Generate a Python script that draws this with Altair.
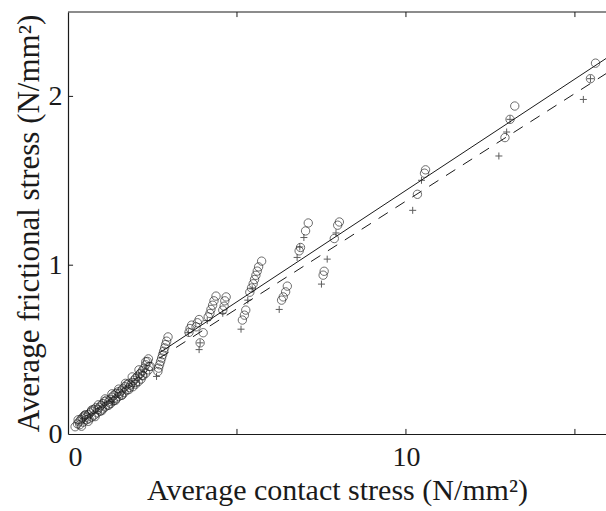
import altair as alt
import pandas as pd

# ---- data ----
circle_x = [
    # dense band near origin
    0.21, 0.28, 0.33, 0.38, 0.42, 0.47, 0.52, 0.35, 0.45, 0.55,
    0.55, 0.60, 0.65, 0.70, 0.76, 0.82, 0.62, 0.70, 0.78, 0.86,
    0.88, 0.93, 0.98, 1.03, 1.08, 1.14, 0.95, 1.02, 1.10, 1.18,
    1.20, 1.25, 1.30, 1.36, 1.42, 1.48, 1.26, 1.34, 1.42, 1.50,
    1.52, 1.57, 1.62, 1.68, 1.74, 1.80, 1.58, 1.66, 1.74, 1.82,
    1.85, 1.90, 1.95, 2.00, 2.06, 2.12, 1.92, 2.00, 2.08, 2.16,
    2.15, 2.20, 2.25, 2.30, 2.35, 2.38, 2.22, 2.30, 2.38, 2.44,
    0.30, 0.50, 0.70, 0.90, 1.10, 1.30, 1.50, 1.70, 1.90, 2.10, 2.30,
    0.40, 0.60, 0.80, 1.00, 1.20, 1.40, 1.60, 1.80, 2.00, 2.20, 2.40,
    # steep stack
    2.66, 2.68, 2.71, 2.74, 2.77, 2.80, 2.83, 2.86, 2.89, 2.92, 2.96,
    # 3.5 - 4.0
    3.58, 3.61, 3.66, 3.79, 3.83, 3.88, 4.00, 3.91,
    # 4.15 - 4.7
    4.15, 4.20, 4.23, 4.28, 4.32, 4.38,
    4.58, 4.62, 4.64, 4.68,
    # 5.1 - 5.7
    5.16, 5.22, 5.26,
    5.38, 5.43, 5.48, 5.52, 5.56, 5.60, 5.64, 5.73,
    # 6.3 - 8.0
    6.32, 6.37, 6.44, 6.49,
    6.84, 6.88, 7.03, 7.11,
    7.55, 7.58, 7.88, 7.98, 8.03,
    # right
    10.34, 10.55, 10.58,
    12.93, 13.08, 13.22,
    15.46, 15.61,
]
circle_y = [
    0.043, 0.060, 0.072, 0.085, 0.095, 0.105, 0.112, 0.055, 0.070, 0.085,
    0.100, 0.115, 0.125, 0.135, 0.145, 0.155, 0.090, 0.100, 0.112, 0.125,
    0.145, 0.158, 0.170, 0.180, 0.192, 0.200, 0.135, 0.148, 0.160, 0.172,
    0.190, 0.205, 0.218, 0.230, 0.240, 0.250, 0.180, 0.195, 0.208, 0.222,
    0.240, 0.255, 0.268, 0.280, 0.292, 0.300, 0.230, 0.245, 0.260, 0.275,
    0.290, 0.305, 0.318, 0.330, 0.342, 0.355, 0.280, 0.295, 0.310, 0.325,
    0.360, 0.375, 0.390, 0.410, 0.430, 0.445, 0.345, 0.360, 0.380, 0.400,
    0.084, 0.113, 0.142, 0.173, 0.208, 0.238, 0.266, 0.300, 0.338, 0.380, 0.428,
    0.046, 0.075, 0.103, 0.138, 0.170, 0.199, 0.230, 0.263, 0.305, 0.348, 0.400,
    0.370, 0.390, 0.410, 0.430, 0.450, 0.470, 0.490, 0.510, 0.530, 0.550, 0.575,
    0.602, 0.625, 0.645, 0.635, 0.659, 0.678, 0.600, 0.540,
    0.694, 0.714, 0.738, 0.763, 0.789, 0.817,
    0.734, 0.757, 0.789, 0.812,
    0.675, 0.704, 0.734,
    0.840, 0.865, 0.890, 0.915, 0.940, 0.965, 0.990, 1.024,
    0.793, 0.812, 0.842, 0.876,
    1.085, 1.105, 1.203, 1.250,
    0.941, 0.964, 1.158, 1.237, 1.256,
    1.420, 1.545, 1.565,
    1.756, 1.864, 1.943,
    2.105, 2.197,
]

plus_x = [1.34, 2.62, 3.56, 3.88, 3.91, 4.12, 4.58, 5.12, 5.32, 5.45, 6.25,
          6.78, 6.86, 6.98, 7.50, 7.67, 7.93, 10.20, 10.46, 12.75, 12.98,
          13.08, 15.25, 15.46]
plus_y = [0.190, 0.341, 0.600, 0.500, 0.540, 0.672, 0.715, 0.621, 0.793, 0.860, 0.738,
          1.046, 1.108, 1.164, 0.888, 1.036, 1.191, 1.325, 1.503, 1.647, 1.789,
          1.864, 1.982, 2.105]

# fitted lines (end points)
solid_x = [2.7, 16.0]
solid_y = [0.480, 2.235]
dashed_x = [2.7, 16.0]
dashed_y = [0.449, 2.145]

# frame ticks
xtick_vals = [5, 10, 15]
ytick_vals = [1, 2]

FONT = "Liberation Serif"
INK = "#1a1a1a"

circles = pd.DataFrame({"x": circle_x, "y": circle_y})
pluses = pd.DataFrame({"x": plus_x, "y": plus_y})
solid = pd.DataFrame({"x": solid_x, "y": solid_y})
dashed = pd.DataFrame({"x": dashed_x, "y": dashed_y})

xs = alt.Scale(domain=[0, 15.92], nice=False, zero=False)
ys = alt.Scale(domain=[0, 2.5], nice=False, zero=False)

xaxis = alt.Axis(values=[0, 10], format="d", ticks=False, tickSize=0, grid=False,
                 domainColor=INK, domainWidth=1.2,
                 labelFont=FONT, labelFontSize=28, labelColor=INK,
                 labelBaseline="alphabetic", labelPadding=31,
                 title="Average contact stress (N/mm²)",
                 titleFont=FONT, titleFontSize=30, titleFontWeight="normal",
                 titleColor=INK, titleBaseline="alphabetic", titleY=65)
yaxis = alt.Axis(values=[0, 1, 2], format="d", ticks=False, tickSize=0, grid=False,
                 domainColor=INK, domainWidth=1.2,
                 labelFont=FONT, labelFontSize=28, labelColor=INK,
                 labelPadding=6,
                 title="Average frictional stress (N/mm²)",
                 titleFont=FONT, titleFontSize=31, titleFontWeight="normal",
                 titleColor=INK, titleBaseline="alphabetic",
                 titleX=-30, titleY=211, titleAngle=-90)

pts_c = alt.Chart(circles).mark_point(
    shape="circle", filled=False, size=70, stroke=INK, strokeWidth=0.9, clip=True
).encode(x=alt.X("x:Q", scale=xs, axis=xaxis), y=alt.Y("y:Q", scale=ys, axis=yaxis))

pts_p = alt.Chart(pluses).mark_point(
    shape="M-1,0L1,0M0,-1L0,1", filled=False, size=49, stroke=INK, strokeWidth=1, clip=True
).encode(x=alt.X("x:Q", scale=xs), y=alt.Y("y:Q", scale=ys))

line_s = alt.Chart(solid).mark_line(color=INK, strokeWidth=1, clip=True).encode(
    x=alt.X("x:Q", scale=xs), y=alt.Y("y:Q", scale=ys))
line_d = alt.Chart(dashed).mark_line(color=INK, strokeWidth=1, strokeDash=[11, 9], clip=True).encode(
    x=alt.X("x:Q", scale=xs), y=alt.Y("y:Q", scale=ys))

# frame: top line and inward ticks
top_df = pd.DataFrame({"x": [0], "x2": [15.92], "y": [2.5]})
top_line = alt.Chart(top_df).mark_rule(color=INK, strokeWidth=1.2).encode(
    x=alt.X("x:Q", scale=xs), x2="x2:Q", y=alt.Y("y:Q", scale=ys))

bt_df = pd.DataFrame({"x": xtick_vals, "y": [0.0] * 3, "y2": [0.03] * 3})
bt = alt.Chart(bt_df).mark_rule(color=INK, strokeWidth=1).encode(
    x=alt.X("x:Q", scale=xs), y=alt.Y("y:Q", scale=ys), y2="y2:Q")
tt_df = pd.DataFrame({"x": xtick_vals, "y": [2.5] * 3, "y2": [2.47] * 3})
tt = alt.Chart(tt_df).mark_rule(color=INK, strokeWidth=1).encode(
    x=alt.X("x:Q", scale=xs), y=alt.Y("y:Q", scale=ys), y2="y2:Q")
lt_df = pd.DataFrame({"x": [0.0] * 2, "x2": [0.15] * 2, "y": ytick_vals})
lt = alt.Chart(lt_df).mark_rule(color=INK, strokeWidth=1).encode(
    x=alt.X("x:Q", scale=xs), x2="x2:Q", y=alt.Y("y:Q", scale=ys))

chart = alt.layer(line_s, line_d, pts_c, pts_p, top_line, bt, tt, lt).properties(
    width=538, height=422,
    autosize=alt.AutoSizeParams(type="none"),
    padding={"left": 68, "top": 12, "right": 0, "bottom": 77},
    background="white",
).configure_view(stroke=None)

chart.save("out.html", embed_options={"renderer": "svg", "actions": False})
